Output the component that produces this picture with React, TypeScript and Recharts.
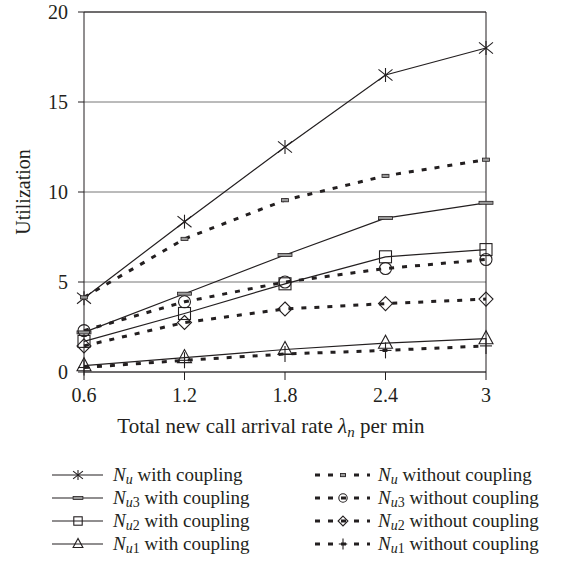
import React from "react";
import { LineChart, Line, XAxis, YAxis, CartesianGrid, ReferenceLine, Label } from "recharts";

const xs = [0.6, 1.2, 1.8, 2.4, 3];
const xTicks = [0.6, 1.2, 1.8, 2.4, 3];
const yTicks = [0, 5, 10, 15, 20];

const nuWith = [4.1, 8.35, 12.5, 16.5, 18.0];
const nu3With = [2.2, 4.35, 6.5, 8.55, 9.4];
const nu2With = [1.7, 3.25, 4.9, 6.4, 6.8];
const nu1With = [0.35, 0.8, 1.25, 1.6, 1.85];
const nuWithout = [4.15, 7.4, 9.55, 10.9, 11.8];
const nu3Without = [2.3, 3.9, 5.0, 5.75, 6.25];
const nu2Without = [1.45, 2.75, 3.5, 3.8, 4.05];
const nu1Without = [0.25, 0.65, 1.0, 1.2, 1.45];

const INK = "#231f20";
const FONT = "'Liberation Serif', 'Times New Roman', serif";

const series = [
  { key: "nuWith", sub: "u", label: " with coupling", marker: "star", dashed: false, values: nuWith },
  { key: "nu3With", sub: "u3", label: " with coupling", marker: "bar", dashed: false, values: nu3With },
  { key: "nu2With", sub: "u2", label: " with coupling", marker: "square", dashed: false, values: nu2With },
  { key: "nu1With", sub: "u1", label: " with coupling", marker: "triangle", dashed: false, values: nu1With },
  { key: "nuWithout", sub: "u", label: " without coupling", marker: "smallbar", dashed: true, values: nuWithout },
  { key: "nu3Without", sub: "u3", label: " without coupling", marker: "circle", dashed: true, values: nu3Without },
  { key: "nu2Without", sub: "u2", label: " without coupling", marker: "diamond", dashed: true, values: nu2Without },
  { key: "nu1Without", sub: "u1", label: " without coupling", marker: "plus", dashed: true, values: nu1Without },
];

const data = xs.map((x, i) => {
  const row: any = { x };
  series.forEach((s) => (row[s.key] = s.values[i]));
  return row;
});

function Marker({ kind, cx, cy, scale = 1 }: { kind: string; cx: number; cy: number; scale?: number }) {
  const s = scale;
  const sw = 1.1;
  switch (kind) {
    case "star": {
      const r = 7 * s;
      return (
        <g stroke={INK} strokeWidth={sw}>
          <line x1={cx - r} y1={cy - r * 0.8} x2={cx + r} y2={cy + r * 0.8} />
          <line x1={cx - r} y1={cy + r * 0.8} x2={cx + r} y2={cy - r * 0.8} />
          <line x1={cx} y1={cy - r} x2={cx} y2={cy + r} />
        </g>
      );
    }
    case "bar":
      return <rect x={cx - 7 * s} y={cy - 1.5} width={14 * s} height={3} fill="#9a9a9a" stroke={INK} strokeWidth={0.8} />;
    case "smallbar":
      return <rect x={cx - 3.5 * s} y={cy - 1.5} width={7 * s} height={3.2} fill="#9a9a9a" stroke={INK} strokeWidth={0.8} />;
    case "square":
      return <rect x={cx - 6 * s} y={cy - 6 * s} width={12 * s} height={12 * s} fill="none" stroke={INK} strokeWidth={sw} />;
    case "triangle":
      return (
        <polygon
          points={`${cx},${cy - 8 * s} ${cx - 7 * s},${cy + 5 * s} ${cx + 7 * s},${cy + 5 * s}`}
          fill="none"
          stroke={INK}
          strokeWidth={sw}
        />
      );
    case "circle":
      return <circle cx={cx} cy={cy} r={6 * s} fill="none" stroke={INK} strokeWidth={sw} />;
    case "diamond":
      return (
        <polygon
          points={`${cx},${cy - 7 * s} ${cx + 7 * s},${cy} ${cx},${cy + 7 * s} ${cx - 7 * s},${cy}`}
          fill="none"
          stroke={INK}
          strokeWidth={sw}
        />
      );
    case "plus":
      return (
        <g stroke={INK} strokeWidth={sw}>
          <line x1={cx - 6 * s} y1={cy} x2={cx + 6 * s} y2={cy} />
          <line x1={cx} y1={cy - 8 * s} x2={cx} y2={cy + 8 * s} />
        </g>
      );
    default:
      return null;
  }
}

function SeriesText({ x, y, sub, label }: { x: number; y: number; sub: string; label: string }) {
  const italicPart = sub.replace(/[0-9]/g, "");
  const digits = sub.replace(/[^0-9]/g, "");
  return (
    <text x={x} y={y} fontFamily={FONT} fontSize={19} fill={INK}>
      <tspan fontStyle="italic">N</tspan>
      <tspan fontStyle="italic" fontSize={14} dy={3}>{italicPart}</tspan>
      {digits && <tspan fontSize={14}>{digits}</tspan>}
      <tspan dy={-3}>{label}</tspan>
    </text>
  );
}

function ChartLegend() {
  const rows = [475, 498, 521, 544];
  return (
    <svg width={575} height={120} style={{ position: "absolute", left: 0, top: 455 }}>
      {series.map((s, i) => {
        const col = s.dashed ? 1 : 0;
        const cy = rows[i % 4] - 455;
        if (col === 0) {
          return (
            <g key={s.key}>
              <line x1={52} y1={cy} x2={103} y2={cy} stroke={INK} strokeWidth={1.2} />
              <Marker kind={s.marker} cx={78} cy={cy} scale={0.7} />
              <SeriesText x={113} y={cy + 6} sub={s.sub} label={s.label} />
            </g>
          );
        }
        return (
          <g key={s.key}>
            <line x1={315} y1={cy} x2={370} y2={cy} stroke={INK} strokeWidth={3} strokeDasharray="5 8" />
            <Marker kind={s.marker} cx={343} cy={cy} scale={0.7} />
            <SeriesText x={378} y={cy + 6} sub={s.sub} label={s.label} />
          </g>
        );
      })}
    </svg>
  );
}

const XTitle = () => (
  <text x={271} y={433} textAnchor="middle" fontFamily={FONT} fontSize={21} fill={INK}>
    Total new call arrival rate <tspan fontStyle="italic">λ</tspan>
    <tspan fontStyle="italic" fontSize={15} dy={4}>n</tspan>
    <tspan dy={-4}> per min</tspan>
  </text>
);

export default function App() {
  return (
    <div style={{ position: "absolute", left: 0, top: 0, width: 575, height: 571, background: "#fff" }}>
      <LineChart width={575} height={450} data={data} margin={{ top: 12, right: 89, bottom: 0, left: 0 }}>
        <CartesianGrid horizontal vertical={false} stroke="#777" strokeWidth={1} />
        <XAxis
          dataKey="x"
          type="number"
          domain={[0.6, 3]}
          ticks={xTicks}
          tickFormatter={(v: number) => String(v)}
          height={78}
          tickSize={8}
          tickMargin={8}
          stroke={INK}
          tick={{ fontFamily: FONT, fontSize: 20, fill: INK }}
        >
          <Label content={<XTitle />} />
        </XAxis>
        <YAxis
          type="number"
          domain={[0, 20]}
          ticks={yTicks}
          width={84}
          tickSize={6}
          tickMargin={10}
          stroke={INK}
          tick={{ fontFamily: FONT, fontSize: 20, fill: INK }}
        >
          <Label
            value="Utilization"
            angle={-90}
            position="insideLeft"
            offset={23}
            style={{ fontFamily: FONT, fontSize: 20, fill: INK, textAnchor: "middle" }}
          />
        </YAxis>
        <ReferenceLine y={20} stroke={INK} strokeWidth={1} />
        <ReferenceLine x={3} stroke={INK} strokeWidth={1} />
        {series.map((s) => (
          <Line
            key={s.key}
            dataKey={s.key}
            type="linear"
            stroke={INK}
            strokeWidth={s.dashed ? 3 : 1.2}
            strokeDasharray={s.dashed ? "5 8" : undefined}
            isAnimationActive={false}
            activeDot={false}
            dot={(p: any) => <Marker key={`${s.key}-${p.index}`} kind={s.marker} cx={p.cx} cy={p.cy} />}
          />
        ))}
      </LineChart>
      <ChartLegend />
    </div>
  );
}
